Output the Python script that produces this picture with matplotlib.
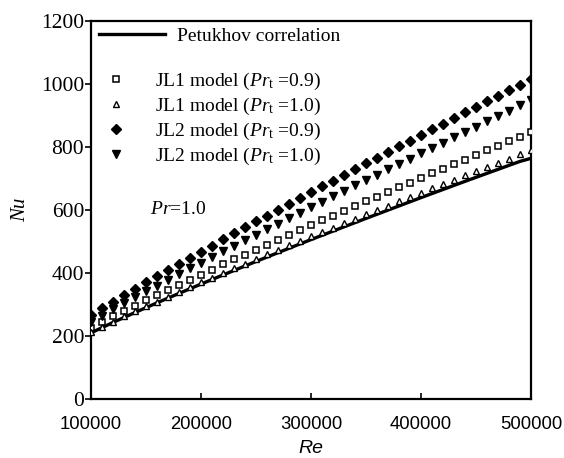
import matplotlib
matplotlib.use("Agg")
import matplotlib.pyplot as plt
from matplotlib.lines import Line2D

plt.rcParams['font.family'] = ['Liberation Serif', 'DejaVu Serif']
plt.rcParams['mathtext.fontset'] = 'custom'
plt.rcParams['mathtext.rm'] = 'Liberation Serif'
plt.rcParams['mathtext.it'] = 'Liberation Serif:italic'

re_vals = [100000 + 10000 * k for k in range(41)]

petukhov = [210, 226.5, 243, 258.8, 274.5, 290, 305.2, 320.3, 335.2, 350, 364.8,
            379.3, 393.7, 408, 422.3, 436.6, 450.6, 464.5, 478.4, 492.2, 506,
            519.5, 533, 546.5, 559.9, 573.3, 586.5, 599.7, 612.9, 626.1, 639.3,
            652.2, 665.1, 678, 690.9, 703.7, 716.4, 729, 741.7, 754.3, 764]

jl1_09 = [226, 244, 262, 279, 296, 313, 330, 346, 362, 379, 395,
          411, 427, 443, 458, 474, 490, 505, 521, 536, 552,
          567, 582, 597, 612, 627, 642, 657, 672, 687, 702,
          716, 731, 746, 760, 775, 790, 804, 819, 833, 848]

jl1_10 = [212, 229, 246, 262, 278, 294, 309, 325, 340, 355, 370,
          385, 400, 415, 430, 444, 459, 473, 488, 502, 516,
          530, 544, 558, 572, 586, 600, 614, 628, 641, 655,
          669, 682, 696, 710, 723, 737, 750, 763, 777, 790]

jl2_09 = [267, 288, 309, 330, 350, 370, 390, 410, 429, 449, 468,
          487, 507, 526, 545, 564, 582, 601, 619, 638, 657,
          675, 693, 711, 730, 748, 766, 784, 802, 820, 838,
          856, 874, 892, 910, 928, 945, 963, 981, 998, 1016]

jl2_10 = [246, 265, 285, 304, 323, 342, 360, 379, 397, 415, 433,
          451, 469, 486, 504, 522, 539, 557, 574, 592, 609,
          626, 643, 661, 678, 695, 712, 729, 746, 763, 780,
          797, 814, 831, 848, 865, 881, 898, 915, 932, 949]

W, H = 564, 458
fig = plt.figure(figsize=(W / 100, H / 100), dpi=100)
ax = fig.add_axes([91 / W, 1 - 399 / H, (531 - 91) / W, (399 - 21) / H])

sq = dict(ls='none', marker='s', ms=4.0, mfc='white', mec='black', mew=1.1)
tu = dict(ls='none', marker='^', ms=4.6, mfc='white', mec='black', mew=1.0)
di = dict(ls='none', marker='D', ms=4.6, mfc='black', mec='black')
td = dict(ls='none', marker='v', ms=5.4, mfc='black', mec='black')

ax.plot(re_vals, petukhov, color='black', lw=2.4, zorder=2)
ax.plot(re_vals, jl1_09, zorder=3, **sq)
ax.plot(re_vals, jl1_10, zorder=3, **tu)
ax.plot(re_vals, jl2_09, zorder=4, **di)
ax.plot(re_vals, jl2_10, zorder=4, **td)

ax.set_xlim(100000, 500000)
ax.set_ylim(0, 1200)
ax.set_xticks([100000, 200000, 300000, 400000, 500000])
ax.set_xticklabels(['100000', '200000', '300000', '400000', '500000'],
                   family='Liberation Sans', fontsize=13.3)
ax.set_yticks([0, 200, 400, 600, 800, 1000, 1200])
ax.set_yticklabels(['0', '200', '400', '600', '800', '1000', '1200'], fontsize=15.5)
ax.tick_params(axis='x', direction='in', length=4, width=1.2, pad=12)
ax.tick_params(axis='y', direction='out', length=4, width=1.2, pad=1)
for s in ax.spines.values():
    s.set_linewidth(1.6)

ax.set_xlabel('Re', family='Liberation Sans', style='italic', fontsize=14, labelpad=5)
ax.set_ylabel('Nu', style='italic', fontsize=15, labelpad=8)

h1 = [Line2D([], [], color='black', lw=2.4)]
leg1 = ax.legend(h1, ['Petukhov correlation'], loc='upper left', frameon=False,
                 fontsize=14, handlelength=3.4, handletextpad=0.6,
                 bbox_to_anchor=(-0.008, 1.015), borderaxespad=0.2)
ax.add_artist(leg1)

h2 = [Line2D([], [], **sq), Line2D([], [], **tu),
      Line2D([], [], **di), Line2D([], [], **td)]
labels2 = [r'JL1 model ($Pr_{\rm t}$ =0.9)', r'JL1 model ($Pr_{\rm t}$ =1.0)',
           r'JL2 model ($Pr_{\rm t}$ =0.9)', r'JL2 model ($Pr_{\rm t}$ =1.0)']
leg2 = ax.legend(h2, labels2, loc='upper left', frameon=False, fontsize=14,
                 handlelength=1.6, handletextpad=1.2, labelspacing=0.2,
                 bbox_to_anchor=(-0.005, 0.9), borderaxespad=0.2)

ax.text(0.135, 0.50, r'$Pr$=1.0', transform=ax.transAxes, fontsize=14, va='center')

fig.savefig('out.png', dpi=100)
